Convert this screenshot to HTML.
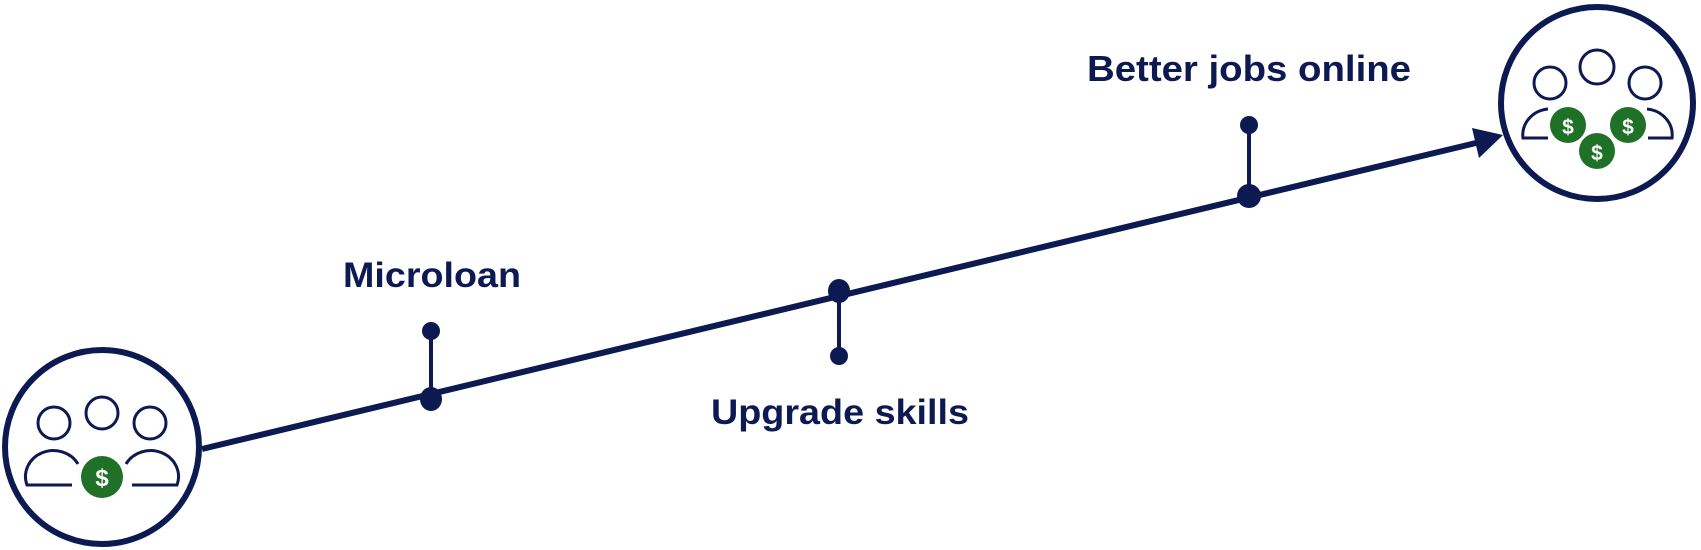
<!DOCTYPE html>
<html><head><meta charset="utf-8"><style>
html,body{margin:0;padding:0;background:#fff;}
svg{display:block;}
text{font-family:"Liberation Sans",sans-serif;font-weight:bold;fill:#0d1a52;}
</style></head><body>
<svg width="1701" height="550" viewBox="0 0 1701 550" xmlns="http://www.w3.org/2000/svg">
<g stroke="#0d1a52" fill="none">
  <circle cx="102" cy="447" r="97" stroke-width="6"/>
  <circle cx="1597" cy="103" r="96" stroke-width="6"/>
  <line x1="202" y1="449" x2="1476" y2="143" stroke-width="6"/>
  <line x1="431" y1="331" x2="431" y2="398" stroke-width="4"/>
  <line x1="839" y1="291" x2="839" y2="356" stroke-width="4"/>
  <line x1="1249" y1="125" x2="1249" y2="196" stroke-width="4"/>
  <!-- left people -->
  <g stroke-width="3">
    <circle cx="54" cy="423" r="16"/><circle cx="102" cy="413" r="16"/><circle cx="150" cy="423" r="16"/>
    <path d="M78 464 A28 26 0 0 0 27 485 L72 485"/>
    <path d="M126 464 A28 26 0 0 1 177 485 L132 485"/>
  </g>
  <!-- right people -->
  <g stroke-width="3">
    <circle cx="1550" cy="83" r="16"/><circle cx="1597" cy="67" r="17"/><circle cx="1645" cy="83" r="16"/>
    <path d="M1548 109 A28 26 0 0 0 1523 138 L1548 138"/>
    <path d="M1647 109 A28 26 0 0 1 1672 138 L1648 138"/>
  </g>
</g>
<g fill="#0d1a52">
  <circle cx="431" cy="331" r="9"/><ellipse cx="431" cy="399" rx="11" ry="12"/>
  <ellipse cx="839" cy="291" rx="11" ry="12"/><circle cx="839" cy="356" r="9"/>
  <circle cx="1249" cy="125" r="9"/><ellipse cx="1249" cy="196" rx="12" ry="12"/>
  <polygon points="1503,135 1472,128 1479,158"/>
</g>
<g fill="#1e7127">
  <circle cx="102" cy="477" r="21"/>
  <circle cx="1568" cy="125" r="18"/><circle cx="1628" cy="125" r="18"/><circle cx="1597" cy="151" r="18"/>
</g>
<g style="font-size:24px" text-anchor="middle">
  <text x="102" y="486" style="fill:#fff">$</text>
  <text x="1568" y="134" style="fill:#fff;font-size:21px">$</text>
  <text x="1628" y="134" style="fill:#fff;font-size:21px">$</text>
  <text x="1597" y="160" style="fill:#fff;font-size:21px">$</text>
</g>
<text x="343" y="287" font-size="35" textLength="178" lengthAdjust="spacingAndGlyphs">Microloan</text>
<text x="711" y="424" font-size="35" textLength="258" lengthAdjust="spacingAndGlyphs">Upgrade skills</text>
<text x="1087" y="81" font-size="36" textLength="324" lengthAdjust="spacingAndGlyphs">Better jobs online</text>
</svg>
</body></html>
